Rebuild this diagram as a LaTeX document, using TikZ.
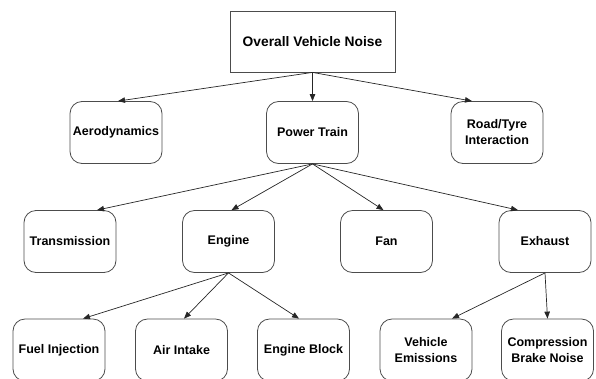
\documentclass[tikz,border=0pt]{standalone}
\usepackage{fontspec}
\setmainfont{Liberation Sans}
\usetikzlibrary{arrows.meta,positioning}

\begin{document}
\begin{tikzpicture}[
  x=1pt,y=-1pt,
  part/.style={
    draw=black!70,
    rounded corners=12pt,
    align=center,
    minimum width=92pt,
    minimum height=62pt,
    inner sep=2pt,
    line width=0.8pt,
    font=\fontsize{12.5}{16}\selectfont\bfseries
  },
  root/.style={
    part,
    rounded corners=0pt,
    minimum width=165pt,
    minimum height=61pt,
    font=\fontsize{13.8}{16}\selectfont\bfseries
  },
  flow/.style={-{Triangle[length=7pt,width=5.5pt]},draw=black!85,line width=0.7pt}
]
  \useasboundingbox (0,0) rectangle (596,378);

  % top level
  \node[root] (vehicle-noise) at (312.5,41.5) {Overall Vehicle Noise};

  % second level
  \node[part] (aerodynamics) at (116,132.5) {Aerodynamics};
  \node[part] (power-train) at (312.5,132.5) {Power Train};
  \node[part] (road-tyre) at (497,132.5) {Road/Tyre\\Interaction};

  % third level
  \node[part] (transmission) at (70,241.5) {Transmission};
  \node[part] (engine) at (228.5,241.5) {Engine};
  \node[part] (fan) at (386.5,241.5) {Fan};
  \node[part] (exhaust) at (545,241.5) {Exhaust};

  % fourth level
  \node[part] (fuel-injection) at (59,350) {Fuel Injection};
  \node[part] (air-intake) at (181.5,350) {Air Intake};
  \node[part] (engine-block) at (303.5,350) {Engine Block};
  \node[part] (vehicle-emissions) at (426,350) {Vehicle\\Emissions};
  \node[part] (brake-noise) at (547.5,350) {Compression\\Brake Noise};

  \draw[flow] (vehicle-noise.south)--([xshift=2pt]aerodynamics.north);
  \draw[flow] (vehicle-noise.south)--(power-train.north);
  \draw[flow] (vehicle-noise.south)--([xshift=-25pt]road-tyre.north);

  \draw[flow] (power-train.south)--([xshift=27pt]transmission.north);
  \draw[flow] (power-train.south)--([xshift=3pt]engine.north);
  \draw[flow] (power-train.south)--([xshift=-3pt]fan.north);
  \draw[flow] (power-train.south)--([xshift=-27pt]exhaust.north);

  \draw[flow] (engine.south)--([xshift=24pt]fuel-injection.north);
  \draw[flow] (engine.south)--([xshift=2.5pt]air-intake.north);
  \draw[flow] (engine.south)--([xshift=-4.5pt]engine-block.north);

  \draw[flow] (exhaust.south)--([xshift=26pt]vehicle-emissions.north);
  \draw[flow] (exhaust.south)--(brake-noise.north);
\end{tikzpicture}
\end{document}
